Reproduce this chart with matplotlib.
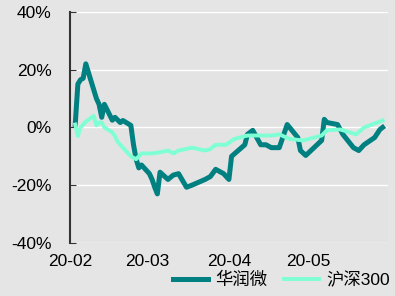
import matplotlib
matplotlib.use("Agg")
import matplotlib.pyplot as plt
import matplotlib.dates as mdates
import matplotlib.ticker as mticker
import pandas as pd

plt.rcParams['font.family'] = ['Liberation Sans', 'Noto Sans CJK SC', 'DejaVu Sans']

# 华润微 (cumulative return, %)
crm_dates = ["2020-02-03", "2020-02-04", "2020-02-05", "2020-02-06", "2020-02-07",
             "2020-02-10", "2020-02-11", "2020-02-12", "2020-02-13", "2020-02-14",
             "2020-02-17", "2020-02-18", "2020-02-20", "2020-02-21", "2020-02-24",
             "2020-02-25", "2020-02-26", "2020-02-27", "2020-02-28", "2020-03-02",
             "2020-03-03", "2020-03-04", "2020-03-05", "2020-03-06", "2020-03-09",
             "2020-03-11", "2020-03-13", "2020-03-16", "2020-03-18", "2020-03-23",
             "2020-03-25", "2020-03-27", "2020-03-30", "2020-04-01", "2020-04-02",
             "2020-04-07", "2020-04-08", "2020-04-10", "2020-04-13", "2020-04-15",
             "2020-04-17", "2020-04-20", "2020-04-23", "2020-04-27", "2020-04-28",
             "2020-04-30", "2020-05-06", "2020-05-07", "2020-05-08", "2020-05-12",
             "2020-05-14", "2020-05-18", "2020-05-20", "2020-05-22", "2020-05-26",
             "2020-05-28", "2020-05-29"]
crm_values = [1, 15, 16.5, 17, 22,
              13, 10, 8, 3.5, 8,
              2.5, 3.5, 1.7, 2.4, 0.7,
              -6, -11, -14, -13, -16,
              -18, -20.7, -23, -15.5, -18,
              -16.5, -16, -20.7, -20, -18,
              -17, -14.5, -16, -18, -10,
              -6, -2.4, -1, -6, -6,
              -7, -7, 1, -3.5, -8,
              -9.7, -4.5, 2.8, 1.7, 1,
              -2.4, -7, -8, -6, -3.5,
              -0.7, 0]

# 沪深300 (cumulative return, %)
hs_dates = ["2020-02-03", "2020-02-04", "2020-02-05", "2020-02-06", "2020-02-07",
            "2020-02-10", "2020-02-11", "2020-02-12", "2020-02-13", "2020-02-14",
            "2020-02-17", "2020-02-18", "2020-02-19", "2020-02-21", "2020-02-24",
            "2020-02-26", "2020-02-28", "2020-03-03", "2020-03-06", "2020-03-09",
            "2020-03-11", "2020-03-13", "2020-03-18", "2020-03-23", "2020-03-25",
            "2020-03-27", "2020-03-31", "2020-04-03", "2020-04-08", "2020-04-13",
            "2020-04-17", "2020-04-20", "2020-04-24", "2020-04-29", "2020-05-06",
            "2020-05-08", "2020-05-13", "2020-05-19", "2020-05-22", "2020-05-27",
            "2020-05-29"]
hs_values = [1, -3, 0, 1, 2,
             4, 0.7, 1.7, 1.7, 0,
             -1.7, -3, -5, -7, -10,
             -11, -9, -9, -8.6, -8,
             -9, -8, -7, -8, -7.5,
             -6, -6, -4, -2.8, -2.8,
             -2.8, -2.4, -4, -4.5, -2.8,
             -1, -0.7, -2.4, 0, 1.7,
             2.4]

series_names = ["华润微", "沪深300"]
y_ticks = [-40, -20, 0, 20, 40]

fig = plt.figure(figsize=(3.95, 2.96), dpi=100, facecolor="#e5e5e5")
ax = fig.add_axes([0.177, 0.179, 0.805, 0.781])
ax.set_facecolor("#e3e3e3")

ax.plot(pd.to_datetime(crm_dates), crm_values, color="#008080", lw=3.6,
        label=series_names[0], solid_joinstyle="round")
ax.plot(pd.to_datetime(hs_dates), hs_values, color="#7fffd4", lw=2.8,
        label=series_names[1], solid_joinstyle="round")

ax.set_ylim(-40, 40)
ax.set_yticks(y_ticks)
ax.yaxis.set_major_formatter(mticker.FuncFormatter(lambda v, p: f"{v:.0f}%"))
ax.set_xlim(pd.Timestamp("2020-02-01"), pd.Timestamp("2020-05-31"))
ax.xaxis.set_major_locator(mdates.MonthLocator())
ax.xaxis.set_major_formatter(mdates.DateFormatter("%y-%m"))

ax.grid(axis="y", color="white", lw=1)
ax.set_axisbelow(True)
for s in ["top", "right", "bottom"]:
    ax.spines[s].set_visible(False)
ax.spines["left"].set_color("#333333")
ax.spines["left"].set_linewidth(1.5)
ax.tick_params(axis="y", labelsize=12.5, direction="in", length=4, color="#333333", pad=13)
ax.tick_params(axis="x", labelsize=12.5, length=0, pad=8)

fig.legend(loc="center right", bbox_to_anchor=(0.995, 0.055), ncol=2, frameon=False,
           fontsize=12.5, handlelength=2.0, columnspacing=1.0, handletextpad=0.4,
           borderpad=0.2, borderaxespad=0)

fig.savefig("out.png", dpi=100, facecolor=fig.get_facecolor())
